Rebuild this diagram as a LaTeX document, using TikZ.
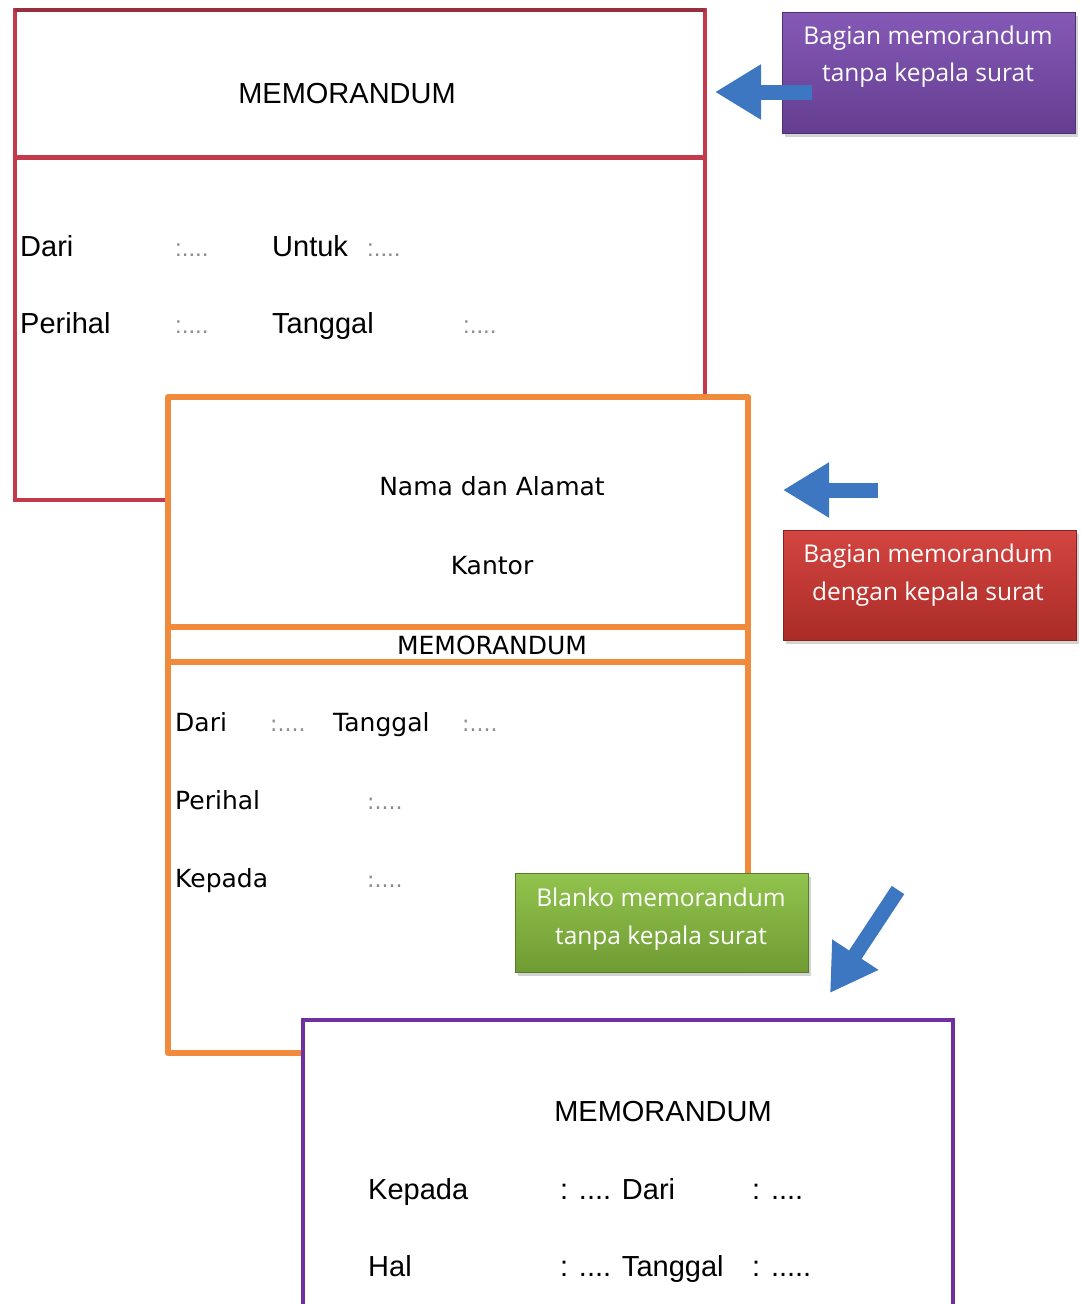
\documentclass[tikz,border=0pt]{standalone}
\usepackage{fontspec}
\setmainfont{Liberation Sans}
\newfontfamily\wideface{DejaVu Sans}
\newfontfamily\calloutface{Open Sans}
\usetikzlibrary{arrows.meta,shadows}

\begin{document}
\begin{tikzpicture}[x=1pt,y=-1pt,
  txt/.style={anchor=base west,inner sep=0,font=\fontsize{29}{29}\selectfont},
  midtxt/.style={txt,anchor=base},
  widetxt/.style={txt,font=\wideface\fontsize{25}{25}\selectfont},
  dottxt/.style={txt,text=black!45},
  callbox/.style={minimum width=293,inner sep=0,draw=#1!65!black,line width=1,
    top color=#1!92!white,bottom color=#1!82!black,
    drop shadow={shadow xshift=3pt,shadow yshift=-4pt,opacity=0.35}},
  calltxt/.style={inner sep=0,align=center,text=white,font=\calloutface\fontsize{24.5}{37.5}\selectfont},
  bluearrow/.style={draw=arrowblue,line width=15,-{Triangle[width=52,length=46]}}]
\definecolor{memored}{HTML}{C23A4C}
\definecolor{memoorange}{HTML}{F08A3C}
\definecolor{memopurple}{HTML}{7030A0}
\definecolor{callpurple}{HTML}{7A4BB0}
\definecolor{callred}{HTML}{D03530}
\definecolor{callgreen}{HTML}{88BE3E}
\definecolor{arrowblue}{HTML}{3D77C2}
\path[use as bounding box] (0,0) rectangle (1081,1304);
\clip (0,0) rectangle (1081,1304);

% memorandum tanpa kepala surat
\draw[memored,line width=4] (15,10) rectangle (705,500);
\draw[memored!80!black,line width=4] (15,10) -- (705,10);
\draw[memored,line width=5] (15,157) -- (705,157);
\node[midtxt] (memoA) at (347,103) {MEMORANDUM};
\foreach \t/\xx/\yy [count=\i] in {Dari/20/256,Untuk/272/256,Perihal/20/333,Tanggal/272/333}
  \node[txt] (fieldA\i) at (\xx,\yy) {\t};
\foreach \xx/\yy [count=\i] in {175/256,367/256,175/333,463/333}
  \node[dottxt,font=\fontsize{24}{24}\selectfont] (dotsA\i) at (\xx,\yy) {:....};

% memorandum dengan kepala surat
\fill[white] (168,397) rectangle (748,1053);
\draw[memoorange,line width=6,line join=round] (748,874) -- (748,397) -- (168,397) -- (168,1053) -- (305,1053);
\draw[memoorange,line width=6] (168,627) -- (748,627);
\draw[memoorange,line width=6] (168,662) -- (748,662);
\node[widetxt,anchor=base] (namaB) at (492,495) {Nama dan Alamat};
\node[widetxt,anchor=base] (kantorB) at (492,574) {Kantor};
\node[widetxt,anchor=base] (memoB) at (492,654) {MEMORANDUM};
\foreach \t/\xx/\yy [count=\i] in {Dari/175/731,Tanggal/333/731,Perihal/175/809,Kepada/175/887}
  \node[widetxt] (fieldB\i) at (\xx,\yy) {\t};
\foreach \xx/\yy [count=\i] in {270/731,462/731,367/809,367/887}
  \node[dottxt,font=\wideface\fontsize{22}{22}\selectfont] (dotsB\i) at (\xx,\yy) {:....};

% blanko memorandum
\draw[memopurple,line width=4,fill=white] (303,1020) rectangle (953,1330);
\node[midtxt] (memoC) at (663,1121) {MEMORANDUM};
\foreach \t/\xx/\yy [count=\i] in {Kepada/368/1199,{: .... Dari}/560/1199,{: ....}/752/1199,
    Hal/368/1276,{: .... Tanggal}/560/1276,{: .....}/752/1276}
  \node[txt] (fieldC\i) at (\xx,\yy) {\t};

% keterangan
\node[callbox=callpurple,minimum height=121] (callA) at (928.5,72.5) {};
\node[calltxt] (callAtxt) at (928,56.5) {Bagian memorandum\\tanpa kepala surat};
\node[callbox=callred,minimum height=110] (callB) at (929.5,585) {};
\node[calltxt] (callBtxt) at (928,575) {Bagian memorandum\\dengan kepala surat};
\node[callbox=callgreen,minimum height=99] (callC) at (661.5,922.5) {};
\node[calltxt] (callCtxt) at (661,919) {Blanko memorandum\\tanpa kepala surat};

\coordinate (tailA) at (812,92);  \coordinate (tipA) at (715,92);
\coordinate (tailB) at (878,490); \coordinate (tipB) at (783,490);
\coordinate (tailC) at (898,890); \coordinate (tipC) at (830,993);
\foreach \a in {A,B,C}
  \draw[bluearrow] (tail\a) -- (tip\a);
\end{tikzpicture}
\end{document}
